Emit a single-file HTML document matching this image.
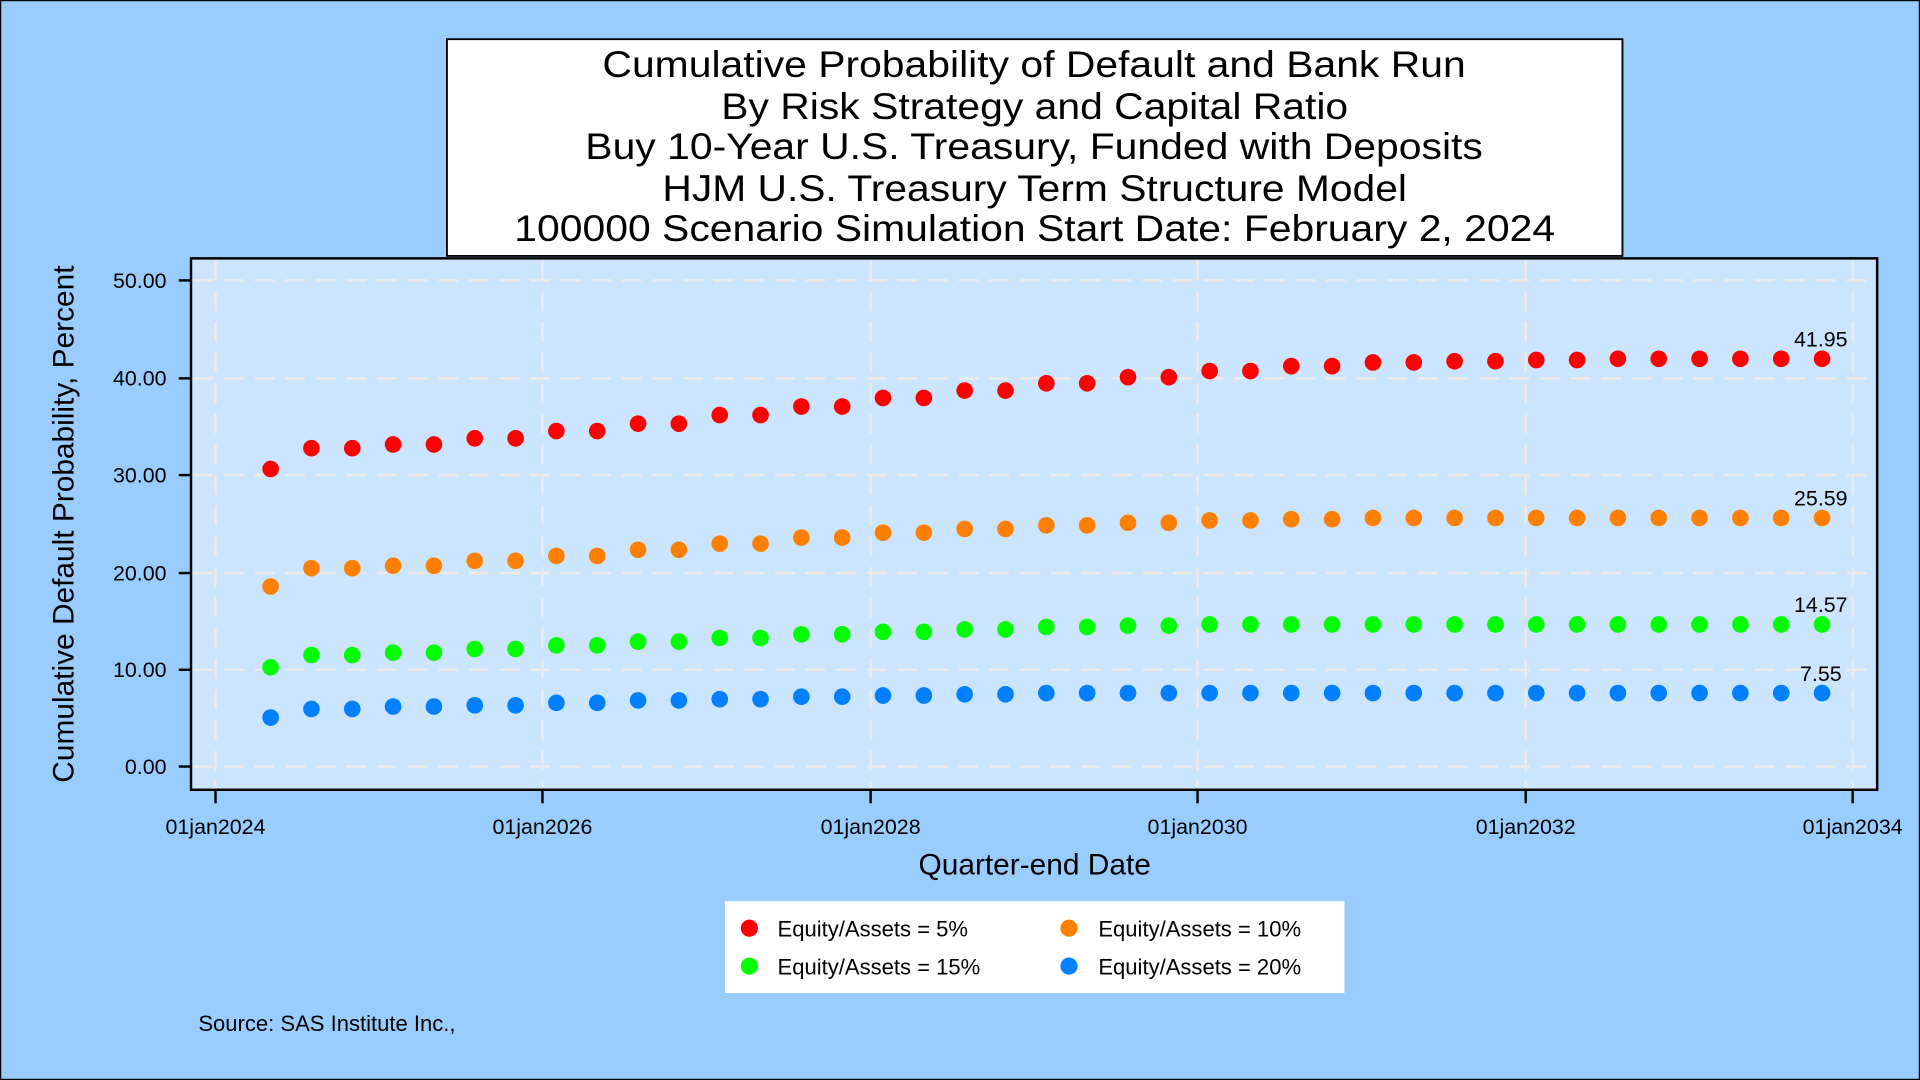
<!DOCTYPE html>
<html><head><meta charset="utf-8"><style>html,body{margin:0;padding:0;background:#99ccff;}svg{display:block;}</style></head>
<body>
<svg id="s" width="1920" height="1080" viewBox="0 0 1568 882" xmlns="http://www.w3.org/2000/svg" font-family="Liberation Sans, Arial, sans-serif">
<rect x="0.5" y="0.5" width="1567" height="881" fill="#99ccff" stroke="#000" stroke-width="1"/>
<rect x="365" y="32" width="960" height="177" fill="#fff" stroke="#000" stroke-width="1.5"/>
<g font-size="30" text-anchor="middle" fill="#000">
<text x="844.5" y="63" textLength="705" lengthAdjust="spacingAndGlyphs">Cumulative Probability of Default and Bank Run</text>
<text x="845" y="97" textLength="512" lengthAdjust="spacingAndGlyphs">By Risk Strategy and Capital Ratio</text>
<text x="844.5" y="130" textLength="733" lengthAdjust="spacingAndGlyphs">Buy 10-Year U.S. Treasury, Funded with Deposits</text>
<text x="845" y="164" textLength="608" lengthAdjust="spacingAndGlyphs">HJM U.S. Treasury Term Structure Model</text>
<text x="845" y="197" textLength="850" lengthAdjust="spacingAndGlyphs">100000 Scenario Simulation Start Date: February 2, 2024</text>
</g>
<rect x="156" y="211" width="1377" height="434" fill="#cce5ff"/>
<g id="grid" stroke="#ebebeb" stroke-width="2" stroke-dasharray="16,9"></g>
<rect x="156" y="211" width="1377" height="434" fill="none" stroke="#000" stroke-width="2"/>
<g id="ticks" stroke="#000" stroke-width="2"></g>
<g id="labels" font-size="17.5" fill="#000"></g>
<text transform="translate(60,428) rotate(-90)" font-size="24.4" text-anchor="middle">Cumulative Default Probability, Percent</text>
<text x="845" y="714" font-size="24.4" text-anchor="middle">Quarter-end Date</text>
<g id="dots"></g>
<g font-size="17.5" text-anchor="middle">
<text x="1487" y="283">41.95</text>
<text x="1487" y="413">25.59</text>
<text x="1487" y="500">14.57</text>
<text x="1487" y="556">7.55</text>
</g>
<rect x="592" y="736" width="506" height="75" fill="#fff"/>
<g font-size="18">
<circle cx="612" cy="758" r="7" fill="#ff0000"/><text x="635" y="765">Equity/Assets = 5%</text>
<circle cx="873" cy="758" r="7" fill="#ff8000"/><text x="897" y="765">Equity/Assets = 10%</text>
<circle cx="612" cy="789" r="7" fill="#00ff00"/><text x="635" y="796">Equity/Assets = 15%</text>
<circle cx="873" cy="789" r="7" fill="#0080ff"/><text x="897" y="796">Equity/Assets = 20%</text>
<text x="162" y="842">Source: SAS Institute Inc.,</text>
</g>
</svg>
<script>
var NS="http://www.w3.org/2000/svg";
function el(p,t,a,txt){var e=document.createElementNS(NS,t);for(var k in a)e.setAttribute(k,a[k]);if(txt!=null)e.textContent=txt;document.getElementById(p).appendChild(e);}
var yv=[[50,229],[40,309],[30,388],[20,468],[10,547],[0,626]];
yv.forEach(function(v){el("grid","line",{x1:158,x2:1531,y1:v[1],y2:v[1]});el("ticks","line",{x1:146,x2:156,y1:v[1],y2:v[1]});el("labels","text",{x:136,y:v[1]+6,"text-anchor":"end"},v[0].toFixed(2));});
var xs=[[176,"01jan2024"],[443,"01jan2026"],[711,"01jan2028"],[978,"01jan2030"],[1246,"01jan2032"],[1513,"01jan2034"]];
xs.forEach(function(v){el("grid","line",{x1:v[0],x2:v[0],y1:213,y2:643});el("ticks","line",{x1:v[0],x2:v[0],y1:645,y2:656});el("labels","text",{x:v[0],y:681,"text-anchor":"middle"},v[1]);});
function fill(a){var r=a.slice();while(r.length<39)r.push(r[r.length-1]);return r;}
var S=[["#ff0000",fill([383,366,366,363,363,358,358,352,352,346,346,339,339,332,332,325,325,319,319,313,313,308,308,303,303,299,299,296,296,295,295,294,294,293])],
["#ff8000",fill([479,464,464,462,462,458,458,454,454,449,449,444,444,439,439,435,435,432,432,429,429,427,427,425,425,424,424,423])],
["#00ff00",fill([545,535,535,533,533,530,530,527,527,524,524,521,521,518,518,516,516,514,514,512,512,511,511,510])],
["#0080ff",fill([586,579,579,577,577,576,576,574,574,572,572,571,571,569,569,568,568,567,567,566])]];
S.forEach(function(s){for(var i=0;i<39;i++){el("dots","circle",{cx:221+i*(1267/38),cy:s[1][i],r:6.8,fill:s[0]});}});
</script>
</body></html>
